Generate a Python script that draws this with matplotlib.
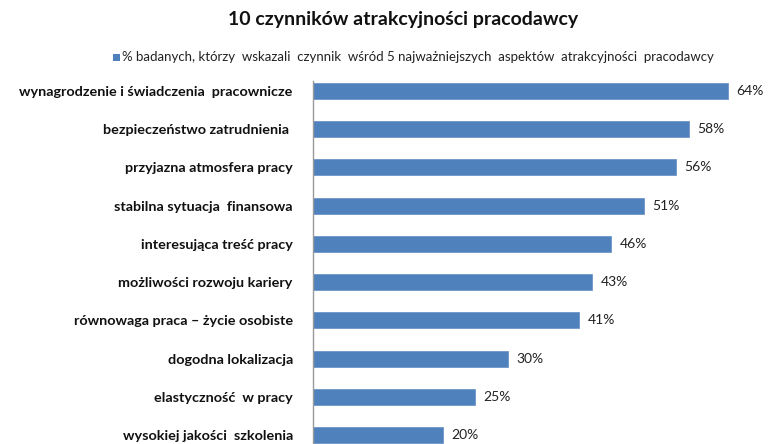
import matplotlib
matplotlib.use('Agg')
import matplotlib.pyplot as plt
from matplotlib.patches import Rectangle

categories = [
    'wynagrodzenie i świadczenia  pracownicze',
    'bezpieczeństwo zatrudnienia ',
    'przyjazna atmosfera pracy',
    'stabilna sytuacja  finansowa',
    'interesująca treść pracy',
    'możliwości rozwoju kariery',
    'równowaga praca – życie osobiste',
    'dogodna lokalizacja',
    'elastyczność  w pracy',
    'wysokiej jakości  szkolenia',
]
values = [64, 58, 56, 51, 46, 43, 41, 30, 25, 20]
title = '10 czynników atrakcyjności pracodawcy'
legend_text = '% badanych, którzy  wskazali  czynnik  wśród 5 najważniejszych  aspektów  atrakcyjności  pracodawcy'

plt.rcParams['font.family'] = ['Lato', 'DejaVu Sans']
bar_color = '#4F81BD'

fig = plt.figure(figsize=(7.7, 4.44), dpi=100)
W, H = 770, 444
# axes from x=313 to 767 px, y=81 to 444 px
ax = fig.add_axes([313 / W, 0, (767 - 313) / W, (444 - 81) / H])

ypos = list(range(len(categories)))
ax.barh(ypos, values, height=0.42, color=bar_color, edgecolor='#6f96c8', linewidth=0.6)
ax.set_xlim(0, 70)
ax.set_ylim(9.235, -0.26)

for y, v in zip(ypos, values):
    ax.text(v + 1.3, y, f'{v}%', va='center', ha='left', fontsize=10, color='#222222')

ax.set_yticks(ypos)
ax.set_yticklabels(categories, fontsize=10.4, fontweight='bold', color='#111111')
ax.tick_params(axis='y', length=0, pad=14.5)
ax.set_xticks([])
for s in ['top', 'right', 'bottom']:
    ax.spines[s].set_visible(False)
ax.spines['left'].set_color('#999999')
ax.spines['left'].set_linewidth(1)

fig.text(403 / W, 1 - 20 / H, title, ha='center', va='center', fontsize=14, fontweight='bold', color='#111111')

# legend
fig.patches.append(Rectangle((113 / W, 1 - 61 / H), 7 / W, 7 / H, transform=fig.transFigure,
                             facecolor=bar_color, edgecolor='none'))
fig.text(122 / W, 1 - 57 / H, legend_text, ha='left', va='center', fontsize=9.5, color='#222222')

fig.savefig('out.png', dpi=100)
